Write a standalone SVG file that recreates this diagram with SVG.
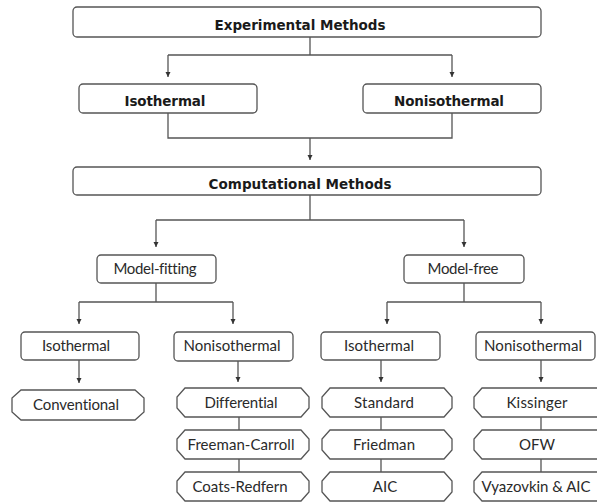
<svg xmlns="http://www.w3.org/2000/svg" width="597" height="502" viewBox="0 0 597 502">
  <style>
    .box { fill: #ffffff; stroke: #555555; stroke-width: 1.3; }
    .oct { fill: #ffffff; stroke: #555555; stroke-width: 1.3; }
    .ln { fill: none; stroke: #555555; stroke-width: 1.3; }
    .tb { font-family: "DejaVu Sans", "Liberation Sans", sans-serif; font-weight: bold; font-size: 13.5px; fill: #1a1a1a; text-anchor: middle; }
    .tr { font-family: Lato, "Open Sans", sans-serif; font-size: 15px; fill: #2a2a2a; text-anchor: middle; font-variant-ligatures: none; }
  </style>
  <defs>
    <marker id="ah" markerUnits="userSpaceOnUse" markerWidth="6" markerHeight="6" refX="5" refY="3" orient="auto">
      <path d="M0,0.5 L5,3 L0,5.5 z" fill="#333333"/>
    </marker>
  </defs>

  <g id="connectors">
    <path class="ln" d="M310,37 V55 M168,55 H452"/>
    <path class="ln" d="M168,55 V77" marker-end="url(#ah)"/>
    <path class="ln" d="M452,55 V77" marker-end="url(#ah)"/>
    <path class="ln" d="M168,113 V138 H452 V113"/>
    <path class="ln" d="M310,138 V160" marker-end="url(#ah)"/>
    <path class="ln" d="M310,195 V220 M156,220 H464"/>
    <path class="ln" d="M156,220 V247" marker-end="url(#ah)"/>
    <path class="ln" d="M464,220 V247" marker-end="url(#ah)"/>
    <path class="ln" d="M156,283 V302 M79,302 H233"/>
    <path class="ln" d="M79,302 V324" marker-end="url(#ah)"/>
    <path class="ln" d="M233,302 V324" marker-end="url(#ah)"/>
    <path class="ln" d="M464,283 V302 M387,302 H541"/>
    <path class="ln" d="M387,302 V324" marker-end="url(#ah)"/>
    <path class="ln" d="M541,302 V324" marker-end="url(#ah)"/>
    <path class="ln" d="M79,360 V383" marker-end="url(#ah)"/>
    <path class="ln" d="M238,361 V382" marker-end="url(#ah)"/>
    <path class="ln" d="M381,360 V382" marker-end="url(#ah)"/>
    <path class="ln" d="M541,360 V382" marker-end="url(#ah)"/>
    <path class="ln" d="M239,417 V430 M239,459 V472"/>
    <path class="ln" d="M381,417 V430 M381,459 V472"/>
    <path class="ln" d="M541,417 V430 M541,459 V472"/>
  </g>

  <g id="experimental">
    <rect class="box" x="73" y="7" width="468" height="30" rx="4"/>
    <text class="tb" x="300" y="30" textLength="171">Experimental Methods</text>
  </g>
  <g id="exp-isothermal">
    <rect class="box" x="79" y="84" width="178" height="29" rx="4"/>
    <text class="tb" x="165" y="106" textLength="81">Isothermal</text>
  </g>
  <g id="exp-nonisothermal">
    <rect class="box" x="363" y="84" width="178" height="29" rx="4"/>
    <text class="tb" x="449" y="106" textLength="110">Nonisothermal</text>
  </g>
  <g id="computational">
    <rect class="box" x="73" y="167" width="468" height="28" rx="4"/>
    <text class="tb" x="300" y="189" textLength="183">Computational Methods</text>
  </g>
  <g id="model-fitting">
    <rect class="box" x="97" y="255" width="119" height="28" rx="4"/>
    <text class="tr" x="155" y="274" textLength="83">Model-fitting</text>
  </g>
  <g id="model-free">
    <rect class="box" x="404" y="255" width="120" height="28" rx="4"/>
    <text class="tr" x="463" y="274" textLength="71">Model-free</text>
  </g>
  <g id="mfit-isothermal">
    <rect class="box" x="21" y="332" width="118" height="28" rx="4"/>
    <text class="tr" x="76" y="351" textLength="68">Isothermal</text>
  </g>
  <g id="mfit-nonisothermal">
    <rect class="box" x="174" y="332" width="119" height="29" rx="4"/>
    <text class="tr" x="232" y="351" textLength="97">Nonisothermal</text>
  </g>
  <g id="mfree-isothermal">
    <rect class="box" x="321" y="332" width="119" height="28" rx="4"/>
    <text class="tr" x="379" y="351" textLength="70">Isothermal</text>
  </g>
  <g id="mfree-nonisothermal">
    <rect class="box" x="476" y="332" width="119" height="28" rx="4"/>
    <text class="tr" x="533" y="351" textLength="98">Nonisothermal</text>
  </g>

  <g id="conventional">
    <path class="oct" d="M21,390 H135 L144,398 V412 L135,420 H21 L12,412 V398 Z"/>
    <text class="tr" x="76" y="410" textLength="86">Conventional</text>
  </g>
  <g id="differential">
    <path class="oct" d="M185,388 H301 L309,397 V408 L301,417 H185 L177,408 V397 Z"/>
    <text class="tr" x="241" y="408" textLength="73">Differential</text>
  </g>
  <g id="freeman-carroll">
    <path class="oct" d="M185,430 H301 L309,439 V450 L301,459 H185 L177,450 V439 Z"/>
    <text class="tr" x="241" y="450" textLength="107">Freeman-Carroll</text>
  </g>
  <g id="coats-redfern">
    <path class="oct" d="M185,472 H301 L309,481 V492 L301,501 H185 L177,492 V481 Z"/>
    <text class="tr" x="240" y="492" textLength="95">Coats-Redfern</text>
  </g>
  <g id="standard">
    <path class="oct" d="M330,388 H444 L452,397 V408 L444,417 H330 L322,408 V397 Z"/>
    <text class="tr" x="384" y="408" textLength="60">Standard</text>
  </g>
  <g id="friedman">
    <path class="oct" d="M330,430 H444 L452,439 V450 L444,459 H330 L322,450 V439 Z"/>
    <text class="tr" x="384" y="450" textLength="62">Friedman</text>
  </g>
  <g id="aic">
    <path class="oct" d="M330,472 H444 L452,481 V492 L444,501 H330 L322,492 V481 Z"/>
    <text class="tr" x="385" y="492">AIC</text>
  </g>
  <g id="kissinger">
    <path class="oct" d="M482,388 H598 L606,397 V408 L598,417 H482 L474,408 V397 Z"/>
    <text class="tr" x="537" y="408" textLength="61">Kissinger</text>
  </g>
  <g id="ofw">
    <path class="oct" d="M482,430 H598 L606,439 V450 L598,459 H482 L474,450 V439 Z"/>
    <text class="tr" x="537" y="450">OFW</text>
  </g>
  <g id="vyazovkin-aic">
    <path class="oct" d="M482,472 H598 L606,481 V492 L598,501 H482 L474,492 V481 Z"/>
    <text class="tr" x="536" y="492" textLength="109">Vyazovkin &amp; AIC</text>
  </g>
</svg>
